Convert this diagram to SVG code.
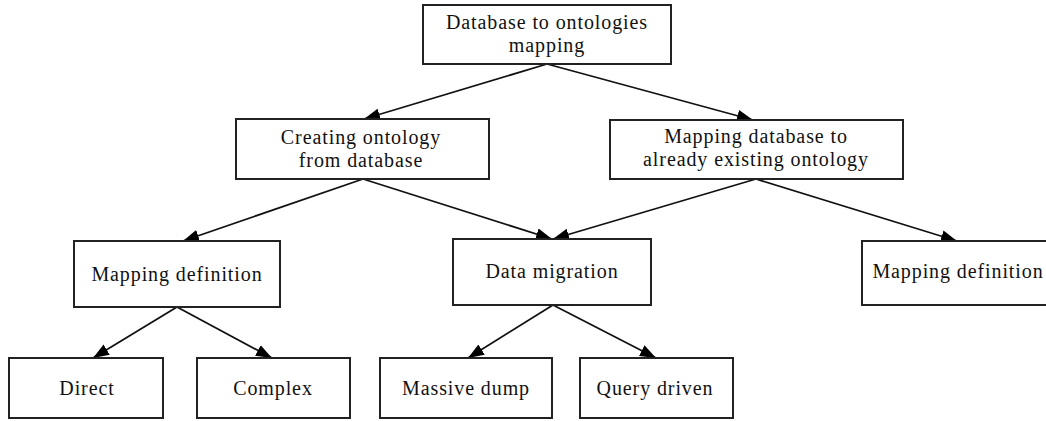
<svg xmlns="http://www.w3.org/2000/svg" width="1046" height="421" viewBox="0 0 1046 421">
  <style>
    .box { fill: #ffffff; stroke: #222222; stroke-width: 2; }
    .label { font-family: "Liberation Serif", "Times New Roman", serif; font-size: 20px; letter-spacing: 0.9px; fill: #111111; text-anchor: middle; }
    .edge { stroke: #111111; stroke-width: 1.8; fill: none; marker-end: url(#arrow); }
  </style>
  <defs>
    <marker id="arrow" markerUnits="userSpaceOnUse" markerWidth="18" markerHeight="14" refX="16" refY="7" orient="auto">
      <path d="M0,1 L16,7 L0,13 Z" fill="#000000"/>
    </marker>
  </defs>

  <rect width="1046" height="421" fill="#ffffff"/>

  <!-- connectors -->
  <g id="connectors">
    <line class="edge" x1="547" y1="64" x2="364" y2="119"/>
    <line class="edge" x1="547" y1="64" x2="753" y2="120"/>
    <line class="edge" x1="363" y1="179" x2="183" y2="241"/>
    <line class="edge" x1="363" y1="179" x2="552" y2="239"/>
    <line class="edge" x1="756" y1="179" x2="553" y2="239"/>
    <line class="edge" x1="756" y1="179" x2="957" y2="241"/>
    <line class="edge" x1="177" y1="307" x2="93" y2="358"/>
    <line class="edge" x1="177" y1="307" x2="272" y2="358"/>
    <line class="edge" x1="553" y1="305" x2="468" y2="358"/>
    <line class="edge" x1="553" y1="305" x2="656" y2="358"/>
  </g>

  <!-- nodes -->
  <g id="root">
    <rect class="box" x="423" y="5" width="248" height="59"/>
    <text class="label" x="547" y="29">Database to ontologies</text>
    <text class="label" x="547" y="52">mapping</text>
  </g>

  <g id="create-ontology">
    <rect class="box" x="236" y="119" width="253" height="60"/>
    <text class="label" x="361" y="144">Creating ontology</text>
    <text class="label" x="361" y="167">from database</text>
  </g>

  <g id="map-existing">
    <rect class="box" x="610" y="120" width="293" height="59"/>
    <text class="label" x="756" y="143">Mapping database to</text>
    <text class="label" x="756" y="166">already existing ontology</text>
  </g>

  <g id="mapping-definition-1">
    <rect class="box" x="74" y="241" width="206" height="66"/>
    <text class="label" x="177" y="281">Mapping definition</text>
  </g>

  <g id="data-migration">
    <rect class="box" x="453" y="239" width="198" height="66"/>
    <text class="label" x="552" y="278">Data migration</text>
  </g>

  <g id="mapping-definition-2">
    <rect class="box" x="862" y="241" width="200" height="64"/>
    <text class="label" x="958" y="278">Mapping definition</text>
  </g>

  <g id="direct">
    <rect class="box" x="9" y="358" width="154" height="60"/>
    <text class="label" x="87" y="395">Direct</text>
  </g>

  <g id="complex">
    <rect class="box" x="197" y="358" width="153" height="60"/>
    <text class="label" x="273" y="395">Complex</text>
  </g>

  <g id="massive-dump">
    <rect class="box" x="380" y="358" width="172" height="60"/>
    <text class="label" x="466" y="395">Massive dump</text>
  </g>

  <g id="query-driven">
    <rect class="box" x="580" y="358" width="153" height="60"/>
    <text class="label" x="655" y="395">Query driven</text>
  </g>
</svg>
